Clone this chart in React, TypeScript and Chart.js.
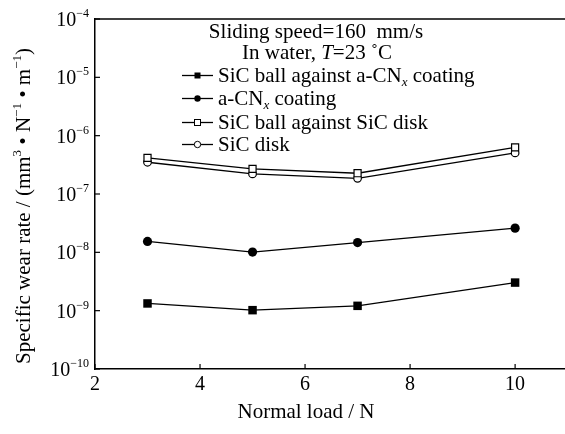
import React, { useEffect, useRef } from "react";
import { Chart, registerables } from "chart.js";

Chart.register(...registerables);

const loads = [3, 5, 7, 10];
const sicBallVsCoating = [1.33e-9, 1.02e-9, 1.21e-9, 3.03e-9];
const coating = [1.54e-8, 1.01e-8, 1.47e-8, 2.6e-8];
const sicBallVsDisk = [4.16e-7, 2.7e-7, 2.27e-7, 6.31e-7];
const sicDisk = [3.5e-7, 2.21e-7, 1.86e-7, 5.06e-7];

const seriesLabels = [
  "SiC ball against a-CN_x coating",
  "a-CN_x coating",
  "SiC ball against SiC disk",
  "SiC disk",
];
const xTicks = [2, 4, 6, 8, 10];
const yExponents = [-10, -9, -8, -7, -6, -5, -4];
const noteLine1 = "Sliding speed=160  mm/s";
const xTitle = "Normal load / N";

const FONT = '"Liberation Serif", "Times New Roman", serif';
const TXT = 21;

type Run = { t: string; italic?: boolean; size: number; dy?: number };

function runsWidth(ctx: CanvasRenderingContext2D, runs: Run[]) {
  let w = 0;
  for (const r of runs) {
    ctx.font = `${r.italic ? "italic " : ""}${r.size}px ${FONT}`;
    w += ctx.measureText(r.t).width;
  }
  return w;
}

function drawRuns(
  ctx: CanvasRenderingContext2D,
  runs: Run[],
  x: number,
  y: number,
  align: "left" | "center" | "right"
) {
  const w = runsWidth(ctx, runs);
  let cx = align === "left" ? x : align === "center" ? x - w / 2 : x - w;
  ctx.textAlign = "left";
  ctx.textBaseline = "alphabetic";
  ctx.fillStyle = "#000";
  for (const r of runs) {
    ctx.font = `${r.italic ? "italic " : ""}${r.size}px ${FONT}`;
    ctx.fillText(r.t, cx, y + (r.dy || 0));
    cx += ctx.measureText(r.t).width;
  }
}

function labelRuns(label: string, size: number): Run[] {
  const parts = label.split("_x");
  const runs: Run[] = [];
  parts.forEach((p, i) => {
    if (i > 0) runs.push({ t: "x", italic: true, size: size * 0.62, dy: 4 });
    if (p) runs.push({ t: p, size });
  });
  return runs;
}

const pointStyles = ["rect", "circle", "rect", "circle"];
const filled = [true, true, false, false];

const textPlugin = {
  id: "textPlugin",
  afterDraw(chart: any) {
    const ctx: CanvasRenderingContext2D = chart.ctx;
    const area = chart.chartArea;
    const xs = chart.scales.x;
    const ys = chart.scales.y;
    ctx.save();
    // top frame
    ctx.strokeStyle = "#000";
    ctx.lineWidth = 1.5;
    ctx.beginPath();
    ctx.moveTo(area.left, area.top);
    ctx.lineTo(area.right, area.top);
    ctx.stroke();
    // inward ticks
    ctx.lineWidth = 1.2;
    for (const e of yExponents) {
      const py = ys.getPixelForValue(Math.pow(10, e));
      ctx.beginPath();
      ctx.moveTo(area.left, py);
      ctx.lineTo(area.left + 5, py);
      ctx.stroke();
      drawRuns(
        ctx,
        [
          { t: "10", size: 20 },
          { t: "\u2212" + String(-e), size: 12, dy: -9 },
        ],
        89,
        py + 7,
        "right"
      );
    }
    for (const v of xTicks) {
      const px = xs.getPixelForValue(v);
      ctx.beginPath();
      ctx.moveTo(px, area.bottom);
      ctx.lineTo(px, area.bottom - 5);
      ctx.stroke();
      drawRuns(ctx, [{ t: String(v), size: 20 }], px, area.bottom + 21, "center");
    }
    // axis titles
    drawRuns(ctx, [{ t: xTitle, size: TXT }], 306, 418, "center");
    ctx.save();
    ctx.translate(30, 206);
    ctx.rotate(-Math.PI / 2);
    drawRuns(
      ctx,
      [
        { t: "Specific wear rate / (mm", size: TXT },
        { t: "3", size: 13, dy: -9 },
        { t: " \u2022 N", size: TXT },
        { t: "\u22121", size: 13, dy: -9 },
        { t: " \u2022 m", size: TXT },
        { t: "\u22121", size: 13, dy: -9 },
        { t: ")", size: TXT },
      ],
      0,
      0,
      "center"
    );
    ctx.restore();
    // note
    drawRuns(ctx, [{ t: noteLine1, size: TXT }], 316, 38, "center");
    drawRuns(
      ctx,
      [
        { t: "In water, ", size: TXT },
        { t: "T", size: TXT, italic: true },
        { t: "=23 \u02DAC", size: TXT },
      ],
      317,
      59,
      "center"
    );
    // legend
    const baselines = [82, 105, 129, 151];
    chart.data.datasets.forEach((ds: any, i: number) => {
      const by = baselines[i];
      const my = by - 6.5;
      ctx.strokeStyle = "#000";
      ctx.lineWidth = 1.3;
      ctx.beginPath();
      ctx.moveTo(182, my);
      ctx.lineTo(213, my);
      ctx.stroke();
      const mx = 197.5;
      ctx.fillStyle = filled[i] ? "#000" : "#fff";
      ctx.lineWidth = 1;
      if (pointStyles[i] === "rect") {
        ctx.fillRect(mx - 3, my - 3, 6, 6);
        if (!filled[i]) ctx.strokeRect(mx - 3, my - 3, 6, 6);
      } else {
        ctx.beginPath();
        ctx.arc(mx, my, 3.2, 0, Math.PI * 2);
        ctx.fill();
        if (!filled[i]) ctx.stroke();
      }
      drawRuns(ctx, labelRuns(ds.label, TXT), 218, by, "left");
    });
    ctx.restore();
  },
};

export default function App() {
  const ref = useRef<HTMLCanvasElement>(null);
  useEffect(() => {
    if (!ref.current) return;
    const series = [sicBallVsCoating, coating, sicBallVsDisk, sicDisk];
    const radii = [6, 4.6, 5, 3.8];
    const chart = new Chart(ref.current, {
      type: "line",
      data: {
        datasets: series.map((vals, i) => ({
          label: seriesLabels[i],
          data: loads.map((x, j) => ({ x, y: vals[j] })),
          borderColor: "#000",
          borderWidth: 1.3,
          pointStyle: pointStyles[i] as any,
          pointRadius: radii[i],
          pointBackgroundColor: filled[i] ? "#000" : "#fff",
          pointBorderColor: "#000",
          pointBorderWidth: filled[i] ? 0 : 1.2,
          fill: false,
          tension: 0,
          clip: false as any,
        })),
      },
      options: {
        responsive: false,
        animation: false,
        events: [],
        layout: { autoPadding: false, padding: { top: 19, left: 0, right: 0, bottom: 0 } },
        plugins: { legend: { display: false }, tooltip: { enabled: false } },
        scales: {
          x: {
            type: "linear",
            min: 2,
            max: 10.95,
            ticks: { display: false, stepSize: 2 },
            grid: { display: false },
            border: { display: true, color: "#000", width: 1.5 },
            afterFit: (s: any) => {
              s.height = 65;
              s.paddingLeft = 0;
              s.paddingRight = 0;
            },
          },
          y: {
            type: "logarithmic",
            min: 1e-10,
            max: 1e-4,
            ticks: { display: false },
            grid: { display: false },
            border: { display: true, color: "#000", width: 1.5 },
            afterBuildTicks: (s: any) => {
              s.ticks = yExponents.map((e) => ({ value: Math.pow(10, e) }));
            },
            afterFit: (s: any) => {
              s.width = 95;
              s.paddingTop = 0;
              s.paddingBottom = 0;
            },
          },
        },
      },
      plugins: [textPlugin],
    });
    return () => chart.destroy();
  }, []);
  return (
    <div style={{ position: "absolute", left: 0, top: 0, width: 565, height: 434, background: "#fff" }}>
      <canvas ref={ref} width={565} height={434} />
    </div>
  );
}
